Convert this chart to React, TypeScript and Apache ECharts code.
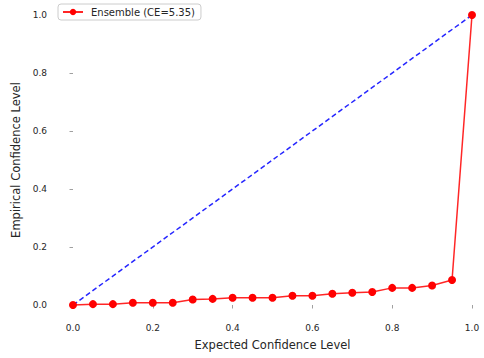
import React, { useEffect, useRef } from "react";
import * as echarts from "echarts";

const expected = [0, 0.05, 0.1, 0.15, 0.2, 0.25, 0.3, 0.35, 0.4, 0.45, 0.5, 0.55, 0.6, 0.65, 0.7, 0.75, 0.8, 0.85, 0.9, 0.95, 1.0];
const empirical = [0, 0.003, 0.003, 0.008, 0.008, 0.008, 0.019, 0.021, 0.025, 0.025, 0.025, 0.032, 0.032, 0.039, 0.042, 0.045, 0.059, 0.059, 0.067, 0.086, 1.0];
const idealLine = [[0, 0], [1, 1]];
const seriesName = "Ensemble (CE=5.35)";
const xTitle = "Expected Confidence Level";
const yTitle = "Empirical Confidence Level";

const FONT = "DejaVu Sans";
const TEXT = "#262626";
const TICK = "#888";

export default function App() {
  const ref = useRef<HTMLDivElement>(null);
  useEffect(() => {
    if (!ref.current) return;
    const chart = echarts.init(ref.current, null, { renderer: "svg" });
    chart.setOption({
      animation: false,
      backgroundColor: "#fff",
      textStyle: { fontFamily: FONT },
      grid: { left: 73, top: 15, width: 399, height: 290, containLabel: false, outerBoundsMode: "none" },
      legend: {
        left: 58,
        top: 4,
        padding: [3, 6, 3, 4],
        itemWidth: 20,
        itemHeight: 8,
        borderColor: "#ccc",
        borderWidth: 1,
        borderRadius: 3,
        backgroundColor: "#fff",
        data: [seriesName],
        textStyle: { fontFamily: FONT, fontSize: 10, color: TEXT, padding: [0, 0, 0, 3] },
      },
      xAxis: {
        type: "value",
        min: 0,
        max: 1,
        interval: 0.2,
        offset: 14.5,
        name: xTitle,
        nameLocation: "middle",
        nameGap: 19,
        nameTextStyle: { fontFamily: FONT, fontSize: 11.5, color: TEXT },
        axisLine: { show: false },
        axisTick: { show: true, length: 3.5, lineStyle: { color: TICK, width: 0.8 } },
        axisLabel: { fontFamily: FONT, fontSize: 9, color: TEXT, margin: 4, formatter: (v: number) => v.toFixed(1) },
        splitLine: { show: false },
      },
      yAxis: {
        type: "value",
        min: 0,
        max: 1,
        interval: 0.2,
        offset: 20,
        name: yTitle,
        nameLocation: "middle",
        nameGap: 28,
        nameTextStyle: { fontFamily: FONT, fontSize: 11.5, color: TEXT },
        axisLine: { show: false },
        axisTick: { show: true, length: 3.5, lineStyle: { color: TICK, width: 0.8 } },
        axisLabel: { fontFamily: FONT, fontSize: 9, color: TEXT, margin: 6, formatter: (v: number) => v.toFixed(1) },
        splitLine: { show: false },
      },
      series: [
        {
          type: "line",
          name: "ideal",
          data: idealLine,
          symbol: "none",
          clip: false,
          lineStyle: { color: "#0000ff", type: [5, 3], width: 1.5, opacity: 0.85 },
          z: 1,
        },
        {
          type: "line",
          name: seriesName,
          data: expected.map((x, i) => [x, empirical[i]]),
          symbol: "circle",
          symbolSize: 8,
          clip: false,
          itemStyle: { color: "#ff0000" },
          lineStyle: { color: "#ff0000", width: 1.5, opacity: 0.85 },
          z: 2,
        },
      ],
    });
    return () => chart.dispose();
  }, []);
  return <div ref={ref} style={{ width: 484, height: 358, position: "absolute", left: 0, top: 0 }} />;
}
